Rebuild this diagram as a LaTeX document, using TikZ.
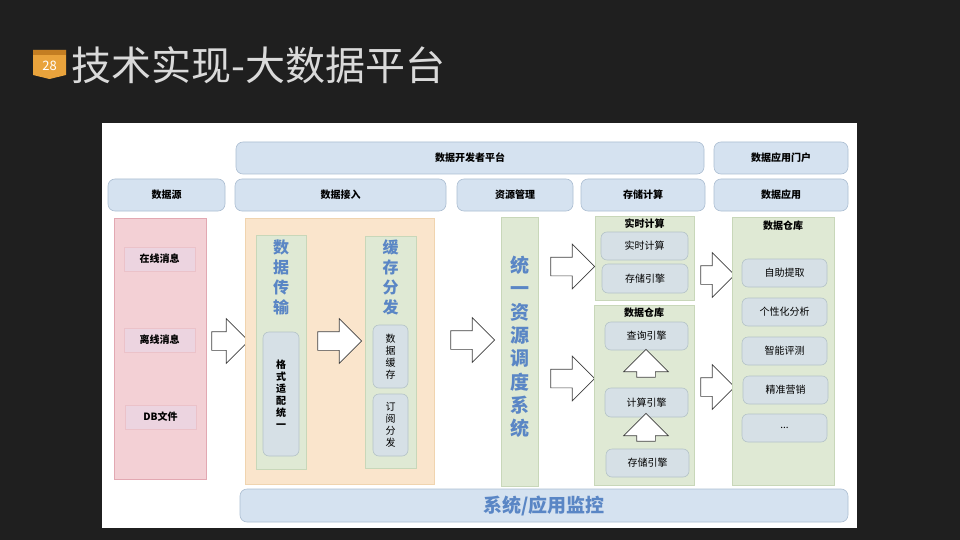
\documentclass[tikz,border=0pt]{standalone}
\usepackage{fontspec}
\setmainfont{Noto Sans CJK SC}
\usepackage{xcolor}
\usetikzlibrary{positioning,shapes.arrows}

\definecolor{bgdark}{RGB}{31,31,31}
\definecolor{hdrfill}{RGB}{213,226,240}
\definecolor{hdrline}{RGB}{172,190,210}
\definecolor{grnfill}{RGB}{223,233,212}
\definecolor{grnline}{RGB}{200,215,185}
\definecolor{boxfill}{RGB}{214,224,230}
\definecolor{boxline}{RGB}{180,195,200}
\definecolor{pnkfill}{RGB}{243,208,213}
\definecolor{pnkline}{RGB}{226,168,178}
\definecolor{pnkbox}{RGB}{236,212,224}
\definecolor{orgfill}{RGB}{250,229,204}
\definecolor{orgline}{RGB}{240,212,175}
\definecolor{bluetxt}{RGB}{90,134,197}
\definecolor{badge}{RGB}{233,163,60}
\definecolor{badgetop}{RGB}{196,126,34}
\definecolor{titletxt}{RGB}{218,218,218}

\begin{document}
\begin{tikzpicture}[x=1pt, y=-1pt, font=\fontsize{10}{12}\selectfont,
		hdr/.style={draw=hdrline, fill=hdrfill, line width=0.6pt, rounded corners=7pt, inner sep=0pt, font=\bfseries\fontsize{10}{12}\selectfont},
		panel/.style={draw=grnline, fill=grnfill, line width=0.6pt, inner sep=0pt},
		ibox/.style={draw=boxline, fill=boxfill, line width=0.6pt, rounded corners=6pt, inner sep=0pt, align=center},
		pbox/.style={draw=pnkline!70, fill=pnkbox, line width=0.6pt, inner sep=0pt, font=\bfseries\fontsize{10}{12}\selectfont},
		ptitle/.style={inner sep=0pt, font=\bfseries\fontsize{10}{12}\selectfont},
		vtxt/.style={text=bluetxt, align=center, inner sep=0pt, font=\bfseries\fontsize{16}{20}\selectfont},
		blk/.style={single arrow, draw=black!75, fill=white, line width=0.7pt, inner xsep=0pt, inner ysep=9pt, single arrow head extend=13pt}]
		% background and slide title
		\fill[bgdark] (0,0) rectangle (960,540);
		\useasboundingbox (0,0) rectangle (960,540);
		\fill[badge] (33,50) -- (66,50) -- (66,75) -- (49.5,79) -- (33,75) -- cycle;
		\fill[badgetop] (33,50) rectangle (66,55);
		\node[text=white, inner sep=0pt, font=\fontsize{13}{15}\selectfont] (num) at (49.5,66) {28};
		\node[anchor=west, text=titletxt, inner sep=0pt, font=\fontsize{40}{46}\selectfont] (title) at (71,65) {技术实现-大数据平台};
		\fill[white] (102,123) rectangle (857,528);

		% header rows
		\node[hdr, minimum width=468pt, minimum height=32pt] (devplat) at (470,158) {数据开发者平台};
		\node[hdr, minimum width=134pt, minimum height=32pt] (portal) at (781,158) {数据应用门户};
		\node[hdr, minimum width=117pt, minimum height=32pt] (src) at (166.5,195) {数据源};
		\node[hdr, minimum width=211pt, minimum height=32pt] (ingest) at (340.5,195) {数据接入};
		\node[hdr, minimum width=116pt, minimum height=32pt] (resmgr) at (515,195) {资源管理};
		\node[hdr, minimum width=124pt, minimum height=32pt] (storcomp) at (643,195) {存储计算};
		\node[hdr, minimum width=134pt, minimum height=32pt] (dataapp) at (781,195) {数据应用};

		% data sources
		\node[draw=pnkline, fill=pnkfill, line width=0.6pt, minimum width=92pt, minimum height=261pt] (srcpanel) at (160,348.5) {};
		\node[pbox, minimum width=71pt, minimum height=24pt] (online) at (159.5,259) {在线消息};
		\node[pbox, minimum width=71pt, minimum height=24pt] (offline) at (159.5,340) {离线消息};
		\node[pbox, minimum width=71pt, minimum height=24pt] (dbfile) at (160.5,417) {DB文件};
		\node[blk, minimum height=37pt] (arr1) at (225.5,341) {};

		% ingestion
		\node[draw=orgline, fill=orgfill, line width=0.6pt, minimum width=189pt, minimum height=266pt] (ingpanel) at (339.5,351) {};
		\node[panel, minimum width=50pt, minimum height=234pt] (transcol) at (281,352) {};
		\node[vtxt] (transtitle) at (281,277) {数\\据\\传\\输};
		\node[ibox, minimum width=36pt, minimum height=124pt, font=\bfseries\fontsize{10}{12}\selectfont] (fmtbox) at (281,394) {格\\式\\适\\配\\统\\一};
		\node[blk, minimum height=44pt] (arr2) at (335,341) {};
		\node[panel, minimum width=51pt, minimum height=232pt] (cachecol) at (390.5,352) {};
		\node[vtxt] (cachetitle) at (390.5,277) {缓\\存\\分\\发};
		\node[ibox, minimum width=35pt, minimum height=63pt] (cachebox) at (390.5,356.5) {数\\据\\缓\\存};
		\node[ibox, minimum width=35pt, minimum height=62pt] (subbox) at (390.5,425) {订\\阅\\分\\发};
		\node[blk, minimum height=44pt] (arr3) at (468,340) {};

		% resource scheduling
		\node[panel, minimum width=37pt, minimum height=269pt] (schedcol) at (519.5,351.5) {};
		\node[vtxt, font=\bfseries\fontsize{19}{23.3}\selectfont] (schedtxt) at (519.5,347) {统\\一\\资\\源\\调\\度\\系\\统};
		\node[blk, minimum height=44pt] (arr4) at (568,266.5) {};
		\node[blk, minimum height=44pt] (arr5) at (568,378.5) {};

		% storage and compute
		\node[panel, minimum width=99pt, minimum height=84pt] (rtpanel) at (644.5,258) {};
		\node[ptitle, below=3pt of rtpanel.north] (rttitle) {实时计算};
		\node[ibox, minimum width=87pt, minimum height=28pt] (rtbox) at (644.5,246) {实时计算};
		\node[ibox, minimum width=86pt, minimum height=29pt] (rtstore) at (645,278.5) {存储引擎};
		\node[panel, minimum width=100pt, minimum height=180pt] (dwpanel) at (644,395) {};
		\node[ptitle, below=3pt of dwpanel.north] (dwtitle) {数据仓库};
		\node[ibox, minimum width=83pt, minimum height=28pt] (qbox) at (646.5,336) {查询引擎};
		\node[blk, rotate=90, minimum height=28pt] (up1) at (646,368) {};
		\node[ibox, minimum width=83pt, minimum height=29pt] (cbox) at (646.5,402.5) {计算引擎};
		\node[blk, rotate=90, minimum height=28pt] (up2) at (646,432) {};
		\node[ibox, minimum width=83pt, minimum height=28pt] (sbox) at (647.5,463) {存储引擎};
		\node[blk, minimum height=34pt] (arr6) at (713,275) {};
		\node[blk, minimum height=34pt] (arr7) at (713,387) {};

		% data applications
		\node[panel, minimum width=102pt, minimum height=268pt] (apppanel) at (783,351) {};
		\node[ptitle, below=4pt of apppanel.north] (apptitle) {数据仓库};
		\node[ibox, minimum width=85pt, minimum height=28pt] (selfbox) at (784.5,273) {自助提取};
		\node[ibox, minimum width=85pt, minimum height=28pt] (persbox) at (784.5,312) {个性化分析};
		\node[ibox, minimum width=85pt, minimum height=28pt] (evalbox) at (784.5,351) {智能评测};
		\node[ibox, minimum width=85pt, minimum height=28pt] (mktbox) at (785.5,390) {精准营销};
		\node[ibox, minimum width=85pt, minimum height=28pt] (morebox) at (784.5,428) {...};

		% monitoring
		\node[hdr, minimum width=608pt, minimum height=33pt, text=bluetxt, font=\bfseries\fontsize{19}{22}\selectfont] (monitor) at (544,505.5) {系统/应用监控};
	\end{tikzpicture}
\end{document}
